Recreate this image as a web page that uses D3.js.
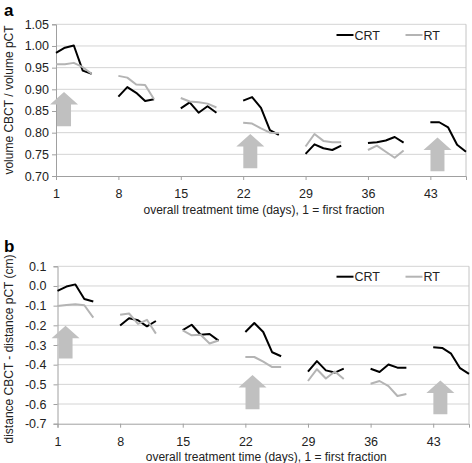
<!DOCTYPE html>
<html><head><meta charset="utf-8">
<script src="https://cdn.jsdelivr.net/npm/d3@7"></script>
<style>
html,body{margin:0;padding:0;background:#fff;}
svg{display:block;font-family:"Liberation Sans",Arial,sans-serif;}
</style></head>
<body>
<svg id="chart" width="472" height="463"></svg>
<script>
// ---- data ----
const days = [1,2,3,4,5, 8,9,10,11,12, 15,16,17,18,19, 22,23,24,25,26, 29,30,31,32,33, 36,37,38,39,40, 43,44,45,46,47];
const volumeCRT = [0.984,0.996,1.001,0.943,0.936, 0.883,0.905,0.892,0.873,0.877, 0.856,0.870,0.846,0.861,0.846, 0.874,0.882,0.857,0.806,0.795, 0.751,0.773,0.764,0.760,0.770, 0.776,0.778,0.782,0.790,0.777, 0.824,0.824,0.812,0.772,0.756];
const volumeRT  = [0.958,0.958,0.961,0.951,0.936, 0.931,0.927,0.911,0.910,0.877, 0.880,0.872,0.870,0.867,0.858, 0.823,0.821,0.810,0.800,0.799, 0.768,0.797,0.781,0.778,0.778, 0.760,0.770,0.756,0.742,0.759, null,null,null,null,null];
const distanceCRT = [-0.025,-0.003,0.008,-0.066,-0.079, -0.201,-0.164,-0.174,-0.205,-0.178, -0.224,-0.197,-0.248,-0.244,-0.278, -0.234,-0.188,-0.234,-0.337,-0.357, -0.435,-0.382,-0.429,-0.440,-0.420, -0.421,-0.437,-0.399,-0.415,-0.415, -0.311,-0.315,-0.344,-0.418,-0.447];
const distanceRT  = [-0.102,-0.097,-0.093,-0.098,-0.161, -0.146,-0.140,-0.193,-0.172,-0.242, -0.226,-0.251,-0.248,-0.292,-0.277, -0.361,-0.361,-0.385,-0.412,-0.412, -0.483,-0.423,-0.470,-0.435,-0.473, -0.497,-0.483,-0.509,-0.559,-0.549, null,null,null,null,null];
const xTicks = [1,8,15,22,29,36,43];
const yTicksA = [1.05,1.00,0.95,0.90,0.85,0.80,0.75,0.70];
const yTicksB = [0.1,0.0,-0.1,-0.2,-0.3,-0.4,-0.5,-0.6,-0.7];
const seriesNames = ["CRT","RT"];
const arrowDays = [1.9, 22.8, 43.8];
const arrowTopA = [0.894, 0.797, 0.789];
const arrowBottomA = [0.815, 0.718, 0.711];
const arrowTopB = [-0.202, -0.452, -0.481];
const arrowBottomB = [-0.368, -0.627, -0.652];

// ---- styles ----
const colors = {CRT:"#000000", RT:"#b4b4b4"};
const svg = d3.select("#chart");

function panel(cfg){
  const g = svg.append("g");
  const x = d3.scaleLinear().domain([1,47]).range([cfg.left, cfg.right]);
  const y = d3.scaleLinear().domain(cfg.yDomain).range([cfg.bottom, cfg.top]);

  // gridlines
  g.append("g").selectAll("line").data(cfg.yTicks.slice(0,-1)).join("line")
    .attr("x1", cfg.left).attr("x2", cfg.right)
    .attr("y1", d=>y(d)).attr("y2", d=>y(d))
    .attr("stroke", "#d4d4d4").attr("stroke-width", 1);
  // right border
  g.append("line").attr("x1", cfg.right).attr("x2", cfg.right)
    .attr("y1", cfg.top).attr("y2", cfg.bottom)
    .attr("stroke", "#c4c4c4").attr("stroke-width", 1);

  // y axis
  const ya = g.append("g").attr("transform", `translate(${cfg.left},0)`)
    .call(d3.axisLeft(y).tickValues(cfg.yTicks).tickSize(4).tickPadding(cfg.ypad).tickFormat(cfg.fmt));
  ya.select(".domain").attr("stroke", "#a0a0a0");
  ya.selectAll(".tick line").attr("stroke", "#a0a0a0");
  ya.selectAll("text").attr("font-size", 12.5).attr("fill", "#222").attr("font-family", "Liberation Sans, Arial, sans-serif");

  // x axis
  const xa = g.append("g").attr("transform", `translate(0,${cfg.bottom})`)
    .call(d3.axisBottom(x).tickValues(xTicks).tickSize(4).tickPadding(9).tickFormat(d3.format("d")));
  xa.select(".domain").attr("stroke", "#a0a0a0");
  xa.selectAll(".tick line").attr("stroke", "#a0a0a0");
  xa.selectAll("text").attr("font-size", 12.5).attr("fill", "#222").attr("font-family", "Liberation Sans, Arial, sans-serif");

  // arrows
  const hw = 14, sw = 7, hh = 12.5;
  g.append("g").selectAll("path").data(arrowDays.map((d,i)=>({day:d, top:cfg.arrowTop[i], bottom:cfg.arrowBottom[i]}))).join("path")
    .attr("fill", "#c0c0c0")
    .attr("d", d => {
      const cx = x(d.day), t = y(d.top), b = y(d.bottom);
      return `M${cx},${t} L${cx+hw},${t+hh} L${cx+sw},${t+hh} L${cx+sw},${b} L${cx-sw},${b} L${cx-sw},${t+hh} L${cx-hw},${t+hh} Z`;
    });

  // lines, broken between treatment weeks
  const segLine = (vals) => {
    const pts = vals.map((v,i)=>({v, day:days[i]}));
    const weeks = d3.groups(pts, p => Math.floor((p.day-1)/7));
    return weeks.map(w => w[1].filter(p=>p.v!=null));
  };
  const l2 = d3.line().x(p=>x(p.day)).y(p=>y(p.v));
  cfg.series.forEach((vals, k) => {
    const name = seriesNames[k];
    g.append("g").selectAll("path").data(segLine(vals).filter(s=>s.length)).join("path")
      .attr("d", l2).attr("fill", "none")
      .attr("stroke", colors[name]).attr("stroke-width", 2)
      .attr("stroke-linejoin", "round");
  });

  // legend
  const lg = g.append("g");
  const legX = [336.5, 405.5];
  seriesNames.forEach((n,i)=>{
    lg.append("line").attr("x1", legX[i]).attr("x2", legX[i]+17)
      .attr("y1", cfg.legY).attr("y2", cfg.legY)
      .attr("stroke", colors[n]).attr("stroke-width", 2);
    lg.append("text").attr("x", legX[i]+18).attr("y", cfg.legY+4.5)
      .attr("font-size", 12.5).attr("fill", "#222").text(n);
  });

  // titles
  g.append("text").attr("x", (cfg.left+cfg.right)/2 + 3).attr("y", cfg.xTitleY)
    .attr("text-anchor", "middle").attr("font-size", 12).attr("fill", "#222")
    .text("overall treatment time (days), 1 = first fraction");
  g.append("text").attr("transform", `translate(12.5,${cfg.yTitleC}) rotate(-90)`)
    .attr("text-anchor", "middle").attr("font-size", 12).attr("fill", "#222")
    .text(cfg.yTitle);
  g.append("text").attr("x", 4).attr("y", cfg.letterY)
    .attr("font-size", 17).attr("font-weight", "bold").attr("fill", "#000")
    .text(cfg.letter);
}

panel({left:56, right:466, top:24.3, bottom:176, yDomain:[0.70,1.05], yTicks:yTicksA,
  fmt:d=>d.toFixed(2), ypad:3, series:[volumeCRT, volumeRT], arrowTop:arrowTopA, arrowBottom:arrowBottomA,
  legY:35, xTitleY:213.5, yTitle:"volume CBCT / volume pCT", yTitleC:100, letter:"a", letterY:16});
panel({left:57.5, right:469, top:266.3, bottom:423.7, yDomain:[-0.7,0.1], yTicks:yTicksB,
  fmt:d=>d.toFixed(1), ypad:7, series:[distanceCRT, distanceRT], arrowTop:arrowTopB, arrowBottom:arrowBottomB,
  legY:276.7, xTitleY:460.5, yTitle:"distance CBCT - distance pCT (cm)", yTitleC:349, letter:"b", letterY:252});
</script>
</body></html>
